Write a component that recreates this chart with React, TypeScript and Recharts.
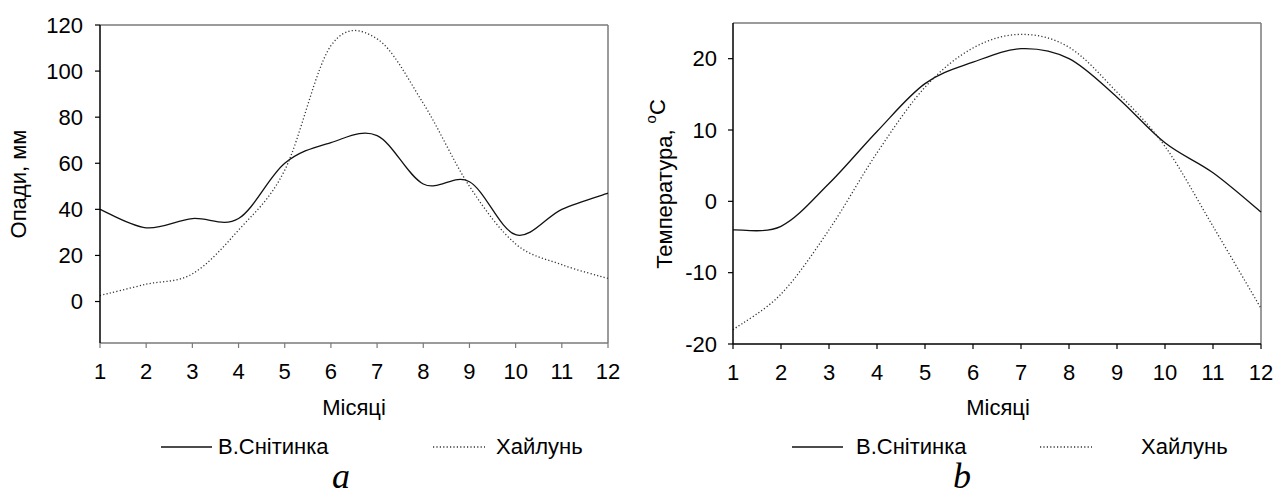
import { LineChart, Line, XAxis, YAxis, ReferenceLine } from "recharts";

// months on the x axis
const months = [1, 2, 3, 4, 5, 6, 7, 8, 9, 10, 11, 12];

// precipitation, mm
const precipSnitynka = [40, 32, 36, 36, 60, 69, 72, 51, 52, 29, 40, 47];
const precipKhailun = [2.6, 7.5, 12, 31, 57, 111, 114, 86, 50, 25, 16, 10];

// temperature, C
const tempSnitynka = [-4, -3.5, 2.5, 9.8, 16.5, 19.5, 21.4, 20, 14.6, 8.2, 4, -1.5];
const tempKhailun = [-18, -13, -4, 6.8, 16, 21.5, 23.4, 21.6, 15.3, 7.7, -3.5, -15];

const precipTicks = [0, 20, 40, 60, 80, 100, 120];
const tempTicks = [-20, -10, 0, 10, 20];

const seriesNames = ["В.Снітинка", "Хайлунь"];

const precipData = months.map((m, i) => ({
  month: m,
  a: precipSnitynka[i],
  b: precipKhailun[i],
}));
const tempData = months.map((m, i) => ({
  month: m,
  a: tempSnitynka[i],
  b: tempKhailun[i],
}));

const FONT = "'Liberation Sans', Arial, sans-serif";
const SERIF = "'Liberation Serif', 'Times New Roman', serif";
const GREY = "#7a7a7a";
const DOTS = "1.2 2.2";

// Excel-like smoothed line (Catmull-Rom as bezier segments)
const smoothCurve = (context: any) => {
  let pts: Array<[number, number]> = [];
  return {
    areaStart() {},
    areaEnd() {},
    lineStart() {
      pts = [];
    },
    lineEnd() {
      const n = pts.length;
      if (!n) return;
      context.moveTo(pts[0][0], pts[0][1]);
      for (let i = 0; i < n - 1; i++) {
        const p0 = pts[Math.max(i - 1, 0)];
        const p1 = pts[i];
        const p2 = pts[i + 1];
        const p3 = pts[Math.min(i + 2, n - 1)];
        context.bezierCurveTo(
          p1[0] + (p2[0] - p0[0]) / 6,
          p1[1] + (p2[1] - p0[1]) / 6,
          p2[0] - (p3[0] - p1[0]) / 6,
          p2[1] - (p3[1] - p1[1]) / 6,
          p2[0],
          p2[1]
        );
      }
    },
    point(x: number, y: number) {
      pts.push([x, y]);
    },
  };
};

const tickStyle = { fill: "#000", fontSize: 22, fontFamily: FONT };

type PanelProps = {
  data: Array<{ month: number; a: number; b: number }>;
  domain: [number, number];
  ticks: number[];
  width: number;
  margin: { top: number; right: number; bottom: number; left: number };
  yTickMargin: number;
  bottomColor: string;
};

function Panel({ data, domain, ticks, width, margin, yTickMargin, bottomColor }: PanelProps) {
  return (
    <LineChart width={width} height={496} data={data} margin={margin}>
      <XAxis
        type="number"
        dataKey="month"
        domain={[1, 12]}
        ticks={months}
        interval={0}
        height={30}
        tickSize={5}
        tickMargin={15}
        axisLine={{ stroke: bottomColor, strokeWidth: 1.5 }}
        tickLine={{ stroke: bottomColor, strokeWidth: 1.2 }}
        tick={tickStyle}
      />
      <YAxis
        type="number"
        domain={domain}
        ticks={ticks}
        interval={0}
        width={60}
        tickSize={5}
        tickMargin={yTickMargin}
        allowDataOverflow
        axisLine={{ stroke: "#000", strokeWidth: 1.5 }}
        tickLine={{ stroke: "#000", strokeWidth: 1.2 }}
        tick={tickStyle}
      />
      <ReferenceLine y={domain[1]} stroke={GREY} strokeWidth={1.5} />
      <ReferenceLine x={12} stroke={GREY} strokeWidth={1.5} />
      <Line
        type={smoothCurve as any}
        dataKey="a"
        name={seriesNames[0]}
        stroke="#111"
        strokeWidth={1.3}
        dot={false}
        isAnimationActive={false}
      />
      <Line
        type={smoothCurve as any}
        dataKey="b"
        name={seriesNames[1]}
        stroke="#333"
        strokeWidth={1.3}
        strokeDasharray={DOTS}
        dot={false}
        isAnimationActive={false}
      />
    </LineChart>
  );
}

function LegendRow({ x1, x2, x3, x4 }: { x1: number; x2: number; x3: number; x4: number }) {
  return (
    <g>
      <line x1={x1} x2={x1 + 51} y1={447} y2={447} stroke="#111" strokeWidth={1.3} />
      <text x={x2} y={454} fontSize={22} fontFamily={FONT}>
        {seriesNames[0]}
      </text>
      <line x1={x3} x2={x3 + 52} y1={447} y2={447} stroke="#333" strokeWidth={1.3} strokeDasharray={DOTS} />
      <text x={x4} y={454} fontSize={22} fontFamily={FONT}>
        {seriesNames[1]}
      </text>
    </g>
  );
}

export default function App() {
  return (
    <div
      style={{
        position: "absolute",
        left: 0,
        top: 0,
        width: 1274,
        height: 496,
        background: "#fff",
        fontFamily: FONT,
      }}
    >
      <div style={{ position: "absolute", left: 0, top: 0 }}>
        <Panel
          data={precipData}
          domain={[-18, 120]}
          ticks={precipTicks}
          width={640}
          margin={{ top: 25, right: 32, bottom: 123, left: 40 }}
          yTickMargin={12}
          bottomColor={GREY}
        />
      </div>
      <div style={{ position: "absolute", left: 640, top: 0 }}>
        <Panel
          data={tempData}
          domain={[-20, 25]}
          ticks={tempTicks}
          width={634}
          margin={{ top: 23, right: 13, bottom: 122, left: 33 }}
          yTickMargin={11}
          bottomColor="#000"
        />
      </div>
      <svg
        width={1274}
        height={496}
        style={{ position: "absolute", left: 0, top: 0, pointerEvents: "none" }}
      >
        <text transform="translate(26,184) rotate(-90)" textAnchor="middle" fontSize={22} fontFamily={FONT}>
          Опади, мм
        </text>
        <text transform="translate(672,184) rotate(-90)" textAnchor="middle" fontSize={22} fontFamily={FONT}>
          Температура,{" "}
          <tspan fontSize={15} dy={-16}>
            o
          </tspan>
          <tspan fontSize={22} dy={9}>
            C
          </tspan>
        </text>
        <text x={354} y={415} textAnchor="middle" fontSize={22} fontFamily={FONT}>
          Місяці
        </text>
        <text x={998} y={415} textAnchor="middle" fontSize={22} fontFamily={FONT}>
          Місяці
        </text>
        <LegendRow x1={161} x2={218} x3={433} x4={496} />
        <LegendRow x1={792} x2={856} x3={1040} x4={1141} />
        <text x={341} y={488} textAnchor="middle" fontSize={36} fontStyle="italic" fontFamily={SERIF}>
          a
        </text>
        <text x={962} y={488} textAnchor="middle" fontSize={36} fontStyle="italic" fontFamily={SERIF}>
          b
        </text>
      </svg>
    </div>
  );
}
